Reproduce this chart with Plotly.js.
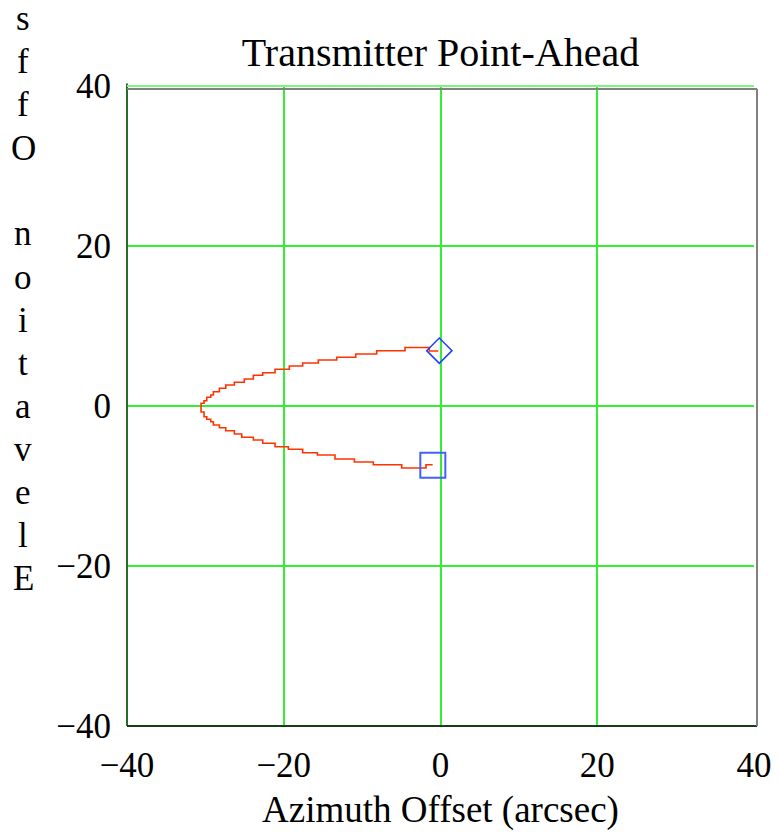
<!DOCTYPE html>
<html>
<head>
<meta charset="utf-8">
<script src="https://cdn.plot.ly/plotly-3.0.1.min.js"></script>
<style>
html,body{margin:0;padding:0;background:#fff;}
#chart{width:781px;height:838px;}
</style>
</head>
<body>
<div id="chart"></div>
<script>
// Point-ahead track (arcsec), stepped as in the reference, from diamond end to square end
const pathAz = [-0.28, -1.43, -4.53, -8.14, -10.82, -13.24, -15.59, -17.58, -19.29, -21.11, -22.68, -23.88, -25.03, -26.30, -27.40, -28.21, -28.98, -29.31, -29.82, -30.17, -30.55,
                -30.17, -29.82, -29.31, -28.98, -28.21, -27.40, -26.30, -25.36, -23.88, -22.68, -21.11, -19.41, -17.58, -15.71, -13.46, -10.99, -8.57, -4.95, -1.85, -1.00];
const pathEl = [6.88, 7.31, 6.91, 6.50, 6.09, 5.75, 5.38, 5.00, 4.59, 4.16, 3.84, 3.38, 2.96, 2.63, 2.21, 1.79, 1.38, 1.09, 0.66, 0.34, -0.75,
                -1.34, -1.66, -1.96, -2.38, -2.71, -3.09, -3.50, -3.91, -4.25, -4.66, -5.09, -5.41, -5.84, -6.13, -6.63, -7.00, -7.34, -7.75, -7.34, -7.34];
const startAz = [-0.15], startEl = [6.92];   // diamond
const endAz = [-0.98], endEl = [-7.40];       // square
const tickVals = [-40, -20, 0, 20, 40];
const tickText = ['\u221240', '\u221220', '0', '20', '40'];
const titleText = 'Transmitter Point-Ahead';
const xTitle = 'Azimuth Offset (arcsec)';
const yTitleVisible = 'Elevation Offs';

const serif = 'Liberation Serif, Times New Roman, serif';
const W = 781, H = 838, L = 127, R = 27, T = 86, B = 112;
const plotH = H - T - B;
const plotW = W - L - R;

const traces = [
  {x: pathAz, y: pathEl, mode: 'lines', line: {color: '#ff3300', width: 1.6, shape: 'hv'}, hoverinfo: 'x+y'},
  {x: startAz, y: startEl, mode: 'markers', marker: {symbol: 'diamond-open', size: 19.5, color: '#1f3fff', line: {width: 1.5, color: '#1f3fff'}}},
  {x: endAz, y: endEl, mode: 'markers', marker: {symbol: 'square-open', size: 25, color: '#4060ff', line: {width: 2, color: '#4060ff'}}}
];

// vertical stacked letters of the y title (bottom-up)
const annotations = [];
const letters = yTitleVisible.split('');
letters.forEach((ch, i) => {
  if (ch === ' ') return;
  const py = 578 - 43 * i;
  annotations.push({
    text: ch, xref: 'paper', yref: 'paper',
    x: (23 - L) / plotW, y: (H - B - py) / plotH,
    xanchor: 'center', yanchor: 'middle', showarrow: false,
    font: {family: serif, size: 35, color: '#000'}
  });
});

const layout = {
  width: W, height: H,
  margin: {l: L, r: R, t: T, b: B, pad: 0},
  paper_bgcolor: '#fff', plot_bgcolor: '#fff',
  showlegend: false,
  title: {text: titleText, x: 0.5, xref: 'paper', xanchor: 'center', y: 1 - 52 / H, yref: 'container', yanchor: 'middle',
          font: {family: serif, size: 40, color: '#000'}},
  xaxis: {
    range: [-40, 40], tickvals: tickVals, ticktext: tickText,
    showgrid: true, gridcolor: '#33ef33', gridwidth: 2, zeroline: false,
    showline: false, ticks: 'outside', ticklen: 8, tickcolor: 'rgba(0,0,0,0)',
    tickfont: {family: serif, size: 35, color: '#000'},
    title: {text: xTitle, font: {family: serif, size: 37, color: '#000'}, standoff: 12},
    automargin: false, fixedrange: true
  },
  yaxis: {
    range: [-40, 40], tickvals: tickVals, ticktext: tickText,
    showgrid: true, gridcolor: '#33ef33', gridwidth: 2, zeroline: false,
    showline: false, ticks: 'outside', ticklen: 8, tickcolor: 'rgba(0,0,0,0)',
    tickfont: {family: serif, size: 35, color: '#000'},
    automargin: false, fixedrange: true
  },
  annotations: annotations,
  shapes: [
    {type: 'line', xref: 'paper', yref: 'paper', x0: 0, x1: 0, y0: 0, y1: 1.004, line: {color: '#2a6a2a', width: 2}},
    {type: 'line', xref: 'paper', yref: 'paper', x0: 0, x1: 1.005, y0: 0, y1: 0, line: {color: '#1a3a1a', width: 2}},
    {type: 'line', xref: 'paper', yref: 'paper', x0: 0, x1: 1.005, y0: 0.9955, y1: 0.9955, line: {color: '#808080', width: 2}},
    {type: 'line', xref: 'paper', yref: 'paper', x0: 1.0048, x1: 1.0048, y0: 0, y1: 0.9955, line: {color: '#808080', width: 2}},
    {type: 'line', xref: 'paper', yref: 'paper', x0: 0, x1: 1.0, y0: 1.0, y1: 1.0, line: {color: '#7cf77c', width: 2}}
  ]
};

Plotly.newPlot('chart', traces, layout, {staticPlot: true, displayModeBar: false});
</script>
</body>
</html>
